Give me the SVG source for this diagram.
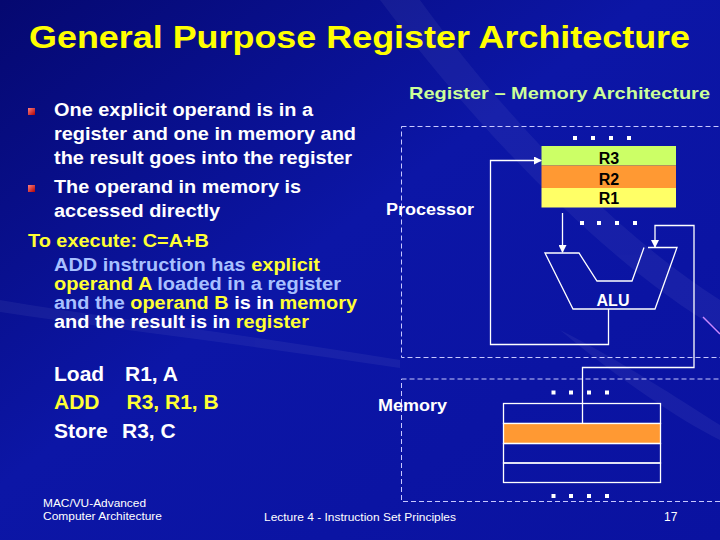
<svg xmlns="http://www.w3.org/2000/svg" width="720" height="540" viewBox="0 0 720 540">
<defs>
<linearGradient id="bg" x1="0" y1="0" x2="1" y2="1">
<stop offset="0" stop-color="#050870"/>
<stop offset="0.45" stop-color="#0c16a6"/>
<stop offset="1" stop-color="#0a12a0"/>
</linearGradient>
<linearGradient id="bul" x1="0" y1="0" x2="1" y2="1">
<stop offset="0" stop-color="#ff8080"/>
<stop offset="1" stop-color="#b00000"/>
</linearGradient>
<marker id="ah" markerWidth="8" markerHeight="8" refX="7" refY="4" orient="auto" markerUnits="userSpaceOnUse">
<path d="M0,0 L8,4 L0,8 Z" fill="#ffffff"/>
</marker>
<style>
.t{font-family:"Liberation Sans",Arial,sans-serif;font-weight:bold}
.n{font-family:"Liberation Sans",Arial,sans-serif}
.w{fill:#ffffff}
.y{fill:#ffff33}
.b{fill:#a8c0ff}
.dash{fill:none;stroke:#c8c8ff;stroke-width:1;stroke-dasharray:5,3}
.ln{fill:none;stroke:#ffffff;stroke-width:1.3}
.dot{fill:#ffffff}
.cell{stroke:#ffffff;stroke-width:1.3}
</style>
</defs>
<rect x="0" y="0" width="720" height="540" fill="url(#bg)"/>
<g opacity="0.05" fill="#ffffff">
<path d="M380,0 C470,120 600,260 720,330 L720,300 C610,230 500,110 420,0 Z"/>
<path d="M560,330 C620,380 680,420 720,440 L720,425 C680,400 620,360 560,330 Z"/>
<path d="M0,300 C120,320 250,335 400,360 L400,368 C250,345 120,330 0,312 Z"/>
</g>
<line x1="703" y1="317" x2="720" y2="334" stroke="#cc88ff" stroke-width="1.5"/>

<g id="title">
<text class="t" x="29" y="48" font-size="32" fill="#ffff00" textLength="661" lengthAdjust="spacingAndGlyphs">General Purpose Register Architecture</text>
</g>

<g id="bullets">
<rect x="28" y="108" width="7" height="7" fill="url(#bul)"/>
<rect x="28" y="185" width="7" height="7" fill="url(#bul)"/>
<text class="t w" x="54" y="116" font-size="18" textLength="259" lengthAdjust="spacingAndGlyphs">One explicit operand is in a</text>
<text class="t w" x="54" y="140" font-size="18" textLength="302" lengthAdjust="spacingAndGlyphs">register and one in memory and</text>
<text class="t w" x="54" y="164" font-size="18" textLength="298" lengthAdjust="spacingAndGlyphs">the result goes into the register</text>
<text class="t w" x="54" y="193" font-size="18" textLength="247" lengthAdjust="spacingAndGlyphs">The operand in memory is</text>
<text class="t w" x="54" y="217" font-size="18" textLength="166" lengthAdjust="spacingAndGlyphs">accessed directly</text>
<text class="t y" x="28" y="247" font-size="18" textLength="181" lengthAdjust="spacingAndGlyphs">To execute: C=A+B</text>
<text class="t" x="54" y="271" font-size="17.5" textLength="266" lengthAdjust="spacingAndGlyphs"><tspan class="b">ADD instruction has </tspan><tspan class="y">explicit</tspan></text>
<text class="t" x="54" y="290" font-size="17.5" textLength="287" lengthAdjust="spacingAndGlyphs"><tspan class="y">operand A </tspan><tspan class="b">loaded in a register</tspan></text>
<text class="t" x="54" y="309" font-size="17.5" textLength="303" lengthAdjust="spacingAndGlyphs"><tspan class="b">and the </tspan><tspan class="y">operand B </tspan><tspan class="w">is in </tspan><tspan class="y">memory</tspan></text>
<text class="t" x="54" y="328" font-size="17.5" textLength="255" lengthAdjust="spacingAndGlyphs"><tspan class="w">and the result is in </tspan><tspan class="y">register</tspan></text>
</g>

<g id="code">
<text class="t w" y="381" font-size="21"><tspan x="54">Load</tspan><tspan x="125">R1, A</tspan></text>
<text class="t y" y="409" font-size="21"><tspan x="54">ADD</tspan><tspan x="126.5">R3, R1, B</tspan></text>
<text class="t w" y="438" font-size="21"><tspan x="54">Store</tspan><tspan x="122">R3, C</tspan></text>
</g>

<g id="footer">
<text class="n w" x="43" y="507" font-size="11" textLength="103" lengthAdjust="spacingAndGlyphs">MAC/VU-Advanced</text>
<text class="n w" x="43" y="520" font-size="11" textLength="119" lengthAdjust="spacingAndGlyphs">Computer Architecture</text>
<text class="n w" x="264" y="521" font-size="11.5" textLength="192" lengthAdjust="spacingAndGlyphs">Lecture 4 - Instruction Set Principles</text>
<text class="n w" x="664" y="521" font-size="12">17</text>
</g>

<g id="diagram-title">
<text class="t" x="409" y="99" font-size="17" fill="#ccff99" textLength="301" lengthAdjust="spacingAndGlyphs">Register – Memory Architecture</text>
</g>

<g id="processor">
<rect class="dash" x="401.5" y="126.5" width="330" height="231"/>
<text class="t w" x="386" y="215" font-size="16" textLength="88" lengthAdjust="spacingAndGlyphs">Processor</text>
</g>

<g id="registers">
<rect class="dot" x="573" y="136" width="4" height="4"/>
<rect class="dot" x="591" y="136" width="4" height="4"/>
<rect class="dot" x="609" y="136" width="4" height="4"/>
<rect class="dot" x="627" y="136" width="4" height="4"/>
<rect x="541.5" y="146" width="134.5" height="19.5" fill="#ccff66"/>
<rect x="541.5" y="165.5" width="134.5" height="22.5" fill="#ff9933"/>
<rect x="541.5" y="188" width="134.5" height="19.5" fill="#ffff66"/>
<text class="t" x="609" y="163.5" font-size="16" fill="#000000" text-anchor="middle">R3</text>
<text class="t" x="609" y="184.5" font-size="16" fill="#000000" text-anchor="middle">R2</text>
<text class="t" x="609" y="204" font-size="16" fill="#000000" text-anchor="middle">R1</text>
<rect class="dot" x="580" y="221" width="4" height="4"/>
<rect class="dot" x="597" y="221" width="4" height="4"/>
<rect class="dot" x="615" y="221" width="4" height="4"/>
<rect class="dot" x="633" y="221" width="4" height="4"/>
</g>

<g id="alu">
<path class="ln" d="M648,247.5 L677,247.5 L655,309 L573,309 L545,253 L579,253 L597,281 L632,281 L644,247.5"/>
<text class="t w" x="613" y="306" font-size="16" text-anchor="middle">ALU</text>
</g>

<g id="memory">
<rect class="dash" x="401.5" y="379" width="330" height="122.5"/>
<text class="t w" x="378" y="411" font-size="16.5" textLength="69" lengthAdjust="spacingAndGlyphs">Memory</text>
<rect class="dot" x="551.5" y="390.5" width="4" height="4"/>
<rect class="dot" x="569" y="390.5" width="4" height="4"/>
<rect class="dot" x="587" y="390.5" width="4" height="4"/>
<rect class="dot" x="605" y="390.5" width="4" height="4"/>
<rect class="cell" x="503.5" y="403.5" width="157" height="20" fill="none"/>
<rect class="cell" x="503.5" y="423.5" width="157" height="20" fill="#ff9933"/>
<rect class="cell" x="503.5" y="443.5" width="157" height="19.5" fill="none"/>
<rect class="cell" x="503.5" y="463" width="157" height="19.5" fill="none"/>
<rect class="dot" x="551.5" y="494" width="4" height="4"/>
<rect class="dot" x="569" y="494" width="4" height="4"/>
<rect class="dot" x="587" y="494" width="4" height="4"/>
<rect class="dot" x="605" y="494" width="4" height="4"/>
</g>

<g id="connectors">
<path class="ln" d="M562.5,213 L562.5,252" marker-end="url(#ah)"/>
<path class="ln" d="M582.5,423 L582.5,367.5 L694,367.5 L694,225.5 L655,225.5 L655,247" marker-end="url(#ah)"/>
<path class="ln" d="M608.5,309 L608.5,344.5 L490.5,344.5 L490.5,160.5 L541,160.5" marker-end="url(#ah)"/>
</g>
</svg>
